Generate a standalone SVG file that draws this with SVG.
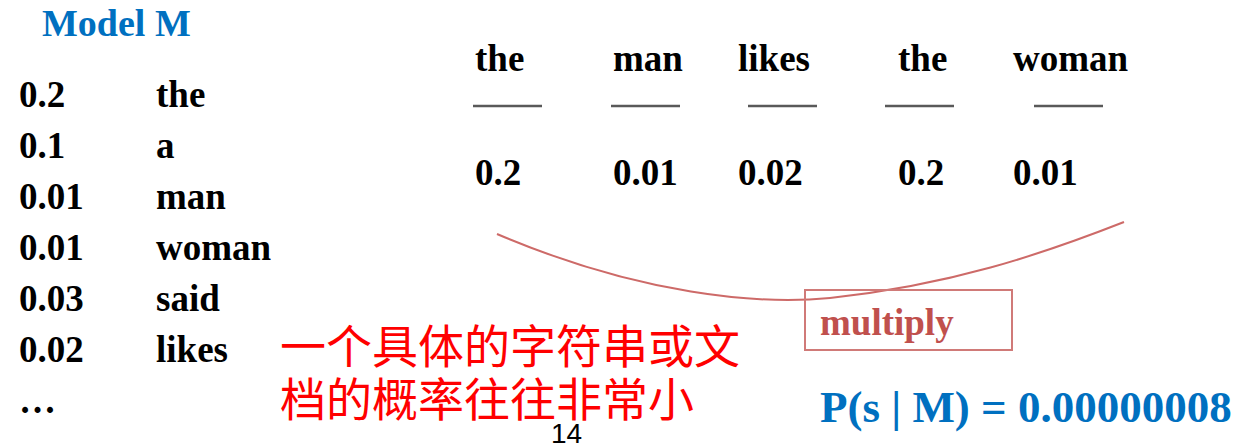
<svg xmlns="http://www.w3.org/2000/svg" width="1241" height="446" viewBox="0 0 1241 446">
<style>
.t{font-family:"Liberation Serif","Times New Roman",serif;font-weight:bold;font-size:37px;fill:#000}
.blue{fill:#0070C0}
.red{fill:#C0504D}
.ul{stroke:#595959;stroke-width:2.5}
.zh{font-family:"Liberation Sans","Noto Sans CJK SC",sans-serif;font-size:46px;fill:#FF0000}
</style>
<rect width="1241" height="446" fill="#fff"/>
<g id="model">
<text class="t blue" x="42" y="36" style="font-size:38px">Model M</text>
<text class="t" x="19" y="107">0.2</text><text class="t" x="156" y="107">the</text>
<text class="t" x="19" y="158">0.1</text><text class="t" x="156" y="158">a</text>
<text class="t" x="19" y="209">0.01</text><text class="t" x="156" y="209">man</text>
<text class="t" x="19" y="260">0.01</text><text class="t" x="156" y="260">woman</text>
<text class="t" x="19" y="311">0.03</text><text class="t" x="156" y="311">said</text>
<text class="t" x="19" y="362">0.02</text><text class="t" x="156" y="362">likes</text>
<text class="t" x="19" y="413">…</text>
</g>
<g id="sentence">
<text class="t" x="475" y="71">the</text>
<text class="t" x="613" y="71">man</text>
<text class="t" x="738" y="71">likes</text>
<text class="t" x="898" y="71">the</text>
<text class="t" x="1013" y="71">woman</text>
<line class="ul" x1="473" y1="106" x2="542" y2="106"/>
<line class="ul" x1="611" y1="106" x2="680" y2="106"/>
<line class="ul" x1="748" y1="106" x2="817" y2="106"/>
<line class="ul" x1="885" y1="106" x2="954" y2="106"/>
<line class="ul" x1="1034" y1="106" x2="1103" y2="106"/>
<text class="t" x="475" y="185">0.2</text>
<text class="t" x="613" y="185">0.01</text>
<text class="t" x="738" y="185">0.02</text>
<text class="t" x="898" y="185">0.2</text>
<text class="t" x="1013" y="185">0.01</text>
</g>
<g id="connectors">
<path d="M497,234 C640,295 760,305 830,298 C950,285 1040,255 1124,222" fill="none" stroke="#CD6A68" stroke-width="2"/>
</g>
<g id="multiply">
<rect x="805" y="290" width="207" height="60" fill="none" stroke="#D07A78" stroke-width="2"/>
<text class="t red" x="820" y="335">multiply</text>
</g>
<g id="note">
<text class="zh" x="280" y="363">一个具体的字符串或文</text>
<text class="zh" x="280" y="416">档的概率往往非常小</text>
</g>
<g id="result">
<text class="t blue" x="820" y="422" style="font-size:45px">P(s | M) = 0.00000008</text>
</g>
<text x="551" y="443" font-family="Liberation Sans,Arial,sans-serif" font-size="28" fill="#000">14</text>
</svg>
